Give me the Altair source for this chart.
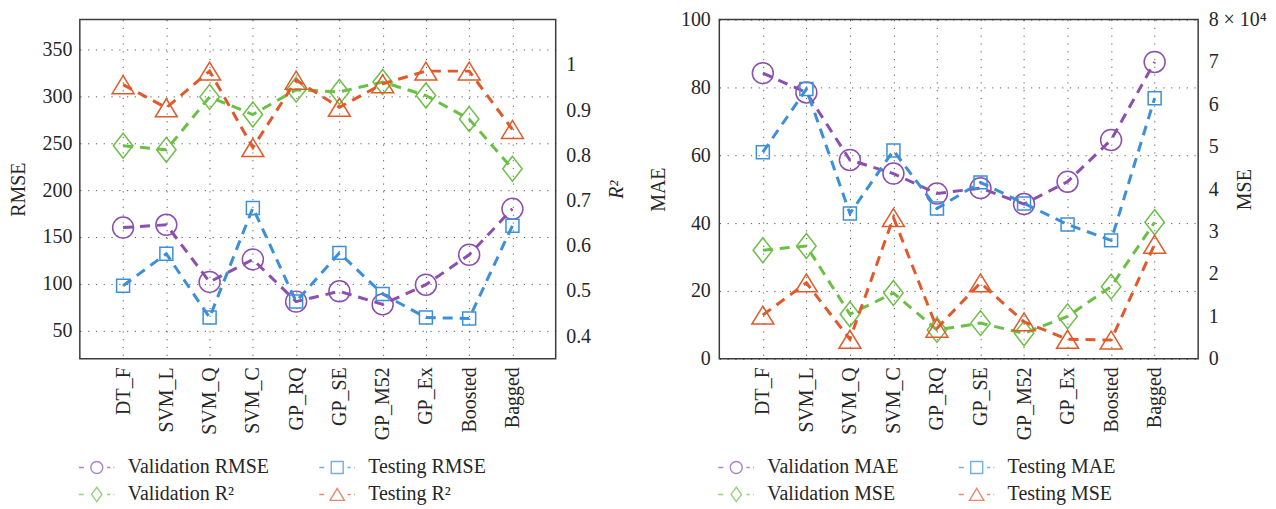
import altair as alt
import pandas as pd

categories = ["DT_F", "SVM_L", "SVM_Q", "SVM_C", "GP_RQ", "GP_SE", "GP_M52", "GP_Ex", "Boosted", "Bagged"]

# Left panel
val_rmse = [160, 163, 102, 126, 81, 92, 78, 99, 131, 180]
test_rmse = [98, 132, 64, 181, 81, 133, 89, 64, 63, 162]
val_r2 = [0.821, 0.812, 0.929, 0.890, 0.945, 0.940, 0.962, 0.932, 0.880, 0.770]
test_r2 = [0.956, 0.905, 0.986, 0.817, 0.966, 0.906, 0.958, 0.986, 0.986, 0.857]

# Right panel (MSE in units of 1e4)
val_mae = [84.2, 78.5, 58.6, 54.6, 48.7, 50.3, 45.6, 52.2, 64.5, 87.5]
test_mae = [60.9, 79.5, 42.8, 61.4, 44.3, 52.0, 45.8, 39.6, 34.9, 76.8]
val_mse = [2.56, 2.66, 1.05, 1.55, 0.68, 0.84, 0.60, 1.00, 1.70, 3.22]
test_mse = [1.03, 1.79, 0.46, 3.33, 0.72, 1.79, 0.87, 0.46, 0.44, 2.70]

# legend entries, filled column by column (2 rows x 2 columns)
legend_left = ["Validation RMSE", "Validation R²", "Testing RMSE", "Testing R²"]
legend_right = ["Validation MAE", "Validation MSE", "Testing MAE", "Testing MSE"]

PURPLE = "#8B4FAD"
BLUE = "#3C8FD8"
GREEN = "#6CBF45"
RED = "#E05A2B"
FONT = "Liberation Serif"
TXT = "#262626"

CIRCLE = "circle"
SQUARE = "square"
DIAMOND = "M0,-1L0.78,0L0,1L-0.78,0Z"
TRIANGLE = "M0,-0.82L1,0.82L-1,0.82Z"

DASH_L = "M-1.5,0L-1.08,0"
DASH_R = "M0.86,0L1.13,0M1.40,0L1.47,0"
LEG_CIRCLE = DASH_L + "M-0.5,0A0.5,0.5 0 1,1 0.5,0A0.5,0.5 0 1,1 -0.5,0" + DASH_R
LEG_SQUARE = DASH_L + "M-0.5,-0.5L0.5,-0.5L0.5,0.5L-0.5,0.5Z" + DASH_R
LEG_DIAMOND = DASH_L + "M0,-0.6L0.43,0L0,0.6L-0.43,0Z" + DASH_R
LEG_TRIANGLE = DASH_L + "M0,-0.5L0.6,0.5L-0.6,0.5Z" + DASH_R

xenc = alt.X(
    "cat:N",
    sort=categories,
    scale=alt.Scale(type="point", padding=1),
    axis=alt.Axis(
        title=None, labelAngle=270, labelAlign="right", labelBaseline="middle",
        labelPadding=8, ticks=False, domain=False, grid=True,
        gridDash=[1.2, 6.6], gridColor="#222", gridOpacity=0.75,
    ),
)


def series_layers(values, color, shape, size, yenc):
    d = pd.DataFrame({"cat": categories, "value": values})
    base = alt.Chart(d).encode(x=xenc, y=yenc)
    line = base.mark_line(color=color, strokeWidth=3, strokeDash=[10, 7])
    pts = base.mark_point(color=color, shape=shape, size=size, filled=False,
                          strokeWidth=1.5, opacity=1)
    return [line, pts]


def legend_layer(labels, colors, paths, lx, ly, colpad):
    d = pd.DataFrame({"series": labels})
    leg = alt.Legend(
        title=None, orient="none", legendX=lx, legendY=ly, columns=2,
        columnPadding=colpad, rowPadding=4, symbolSize=576, symbolStrokeWidth=1.4,
        labelOffset=18, labelFont=FONT, labelFontSize=20, labelColor=TXT,
        padding=0, symbolFillColor="transparent",
    )
    return alt.Chart(d).transform_filter("false").mark_point(filled=False).encode(
        color=alt.Color("series:N", scale=alt.Scale(domain=labels, range=colors), legend=leg),
        shape=alt.Shape("series:N", scale=alt.Scale(domain=labels, range=paths), legend=leg),
    )


def yaxis(domain, orient, title, values, grid, extent, labelpad, fmt=None, expr=None,
          italic=False):
    kw = dict(
        orient=orient, title=title, values=values, grid=grid, ticks=False, domain=False,
        labelPadding=labelpad, minExtent=extent, maxExtent=extent, titlePadding=6,
        titleAngle=270, gridDash=[1.2, 6.6], gridColor="#222", gridOpacity=0.75,
    )
    if orient == "right":
        kw["titleBaseline"] = "top"
    if fmt:
        kw["format"] = fmt
    if expr:
        kw["labelExpr"] = expr
    if italic:
        kw["titleFontStyle"] = "italic"
    return alt.Y("value:Q", scale=alt.Scale(domain=domain, nice=False, zero=False),
                 axis=alt.Axis(**kw))


PLOT_TOP = 18
LEG_Y = 466 - 12 - PLOT_TOP

# Left panel
yl = yaxis([20, 382], "left", "RMSE", [50, 100, 150, 200, 250, 300, 350], True, 45, 8)
yr = yaxis([0.35, 1.10], "right", "R²", [0.4, 0.5, 0.6, 0.7, 0.8, 0.9, 1.0], False, 45, 10,
           fmt="~g", italic=True)
left_grp = alt.layer(
    *series_layers(val_rmse, PURPLE, CIRCLE, 441, yl),
    *series_layers(test_rmse, BLUE, SQUARE, 169, yl),
    legend_layer(legend_left, [PURPLE, GREEN, BLUE, RED],
                 [LEG_CIRCLE, LEG_DIAMOND, LEG_SQUARE, LEG_TRIANGLE], 4, LEG_Y, 47),
)
right_grp = alt.layer(
    *series_layers(val_r2, GREEN, DIAMOND, 625, yr),
    *series_layers(test_r2, RED, TRIANGLE, 484, yr),
)
panel1 = alt.layer(left_grp, right_grp).resolve_scale(y="independent").properties(
    width=477, height=340)

# Right panel
yl2 = yaxis([0, 100], "left", "MAE", [0, 20, 40, 60, 80, 100], True, 45, 9)
yr2 = yaxis([0, 8], "right", "MSE", [0, 1, 2, 3, 4, 5, 6, 7, 8], False, 30, 10,
            expr="datum.value == 8 ? '8 × 10⁴' : datum.label")
left_grp2 = alt.layer(
    *series_layers(val_mae, PURPLE, CIRCLE, 441, yl2),
    *series_layers(test_mae, BLUE, SQUARE, 169, yl2),
    legend_layer(legend_right, [PURPLE, GREEN, BLUE, RED],
                 [LEG_CIRCLE, LEG_DIAMOND, LEG_SQUARE, LEG_TRIANGLE], 4, LEG_Y, 57),
)
right_grp2 = alt.layer(
    *series_layers(val_mse, GREEN, DIAMOND, 625, yr2),
    *series_layers(test_mse, RED, TRIANGLE, 484, yr2),
)
panel2 = alt.layer(left_grp2, right_grp2).resolve_scale(y="independent").properties(
    width=480, height=340)

chart = (
    alt.hconcat(panel1, panel2, spacing=20)
    .resolve_scale(color="independent", shape="independent")
    .resolve_legend(color="independent", shape="independent")
    .properties(padding={"left": 0, "top": 0, "right": 0, "bottom": 0})
    .configure(background="white")
    .configure_view(stroke="#3c3c3c", strokeWidth=1.5)
    .configure_axis(
        labelFont=FONT, labelFontSize=20, labelColor=TXT,
        titleFont=FONT, titleFontSize=20, titleColor=TXT, titleFontWeight="normal",
    )
)

chart.save("out.html", embed_options={"renderer": "svg", "actions": False})
